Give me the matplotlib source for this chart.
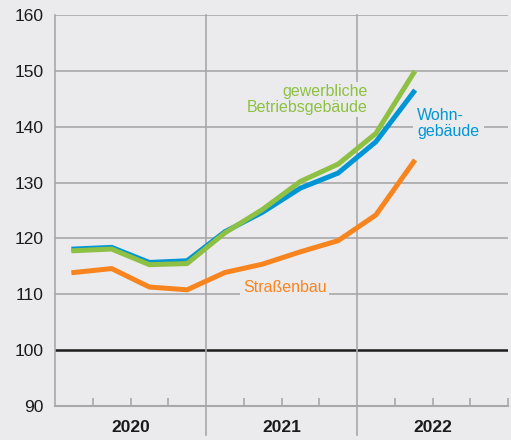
import matplotlib
matplotlib.use("Agg")
import matplotlib.pyplot as plt
import matplotlib.transforms as mtransforms

plt.rcParams['font.family'] = ['Liberation Sans', 'DejaVu Sans']

quarters = ["2020Q1", "2020Q2", "2020Q3", "2020Q4",
            "2021Q1", "2021Q2", "2021Q3", "2021Q4",
            "2022Q1", "2022Q2"]
wohn = [118.1, 118.4, 115.7, 116.0, 121.2, 124.7, 129.0, 131.7, 137.3, 146.2]
gewerb = [117.8, 118.1, 115.3, 115.5, 121.0, 125.2, 130.2, 133.3, 138.8, 149.6]
strasse = [113.9, 114.6, 111.3, 110.8, 113.9, 115.4, 117.6, 119.6, 124.2, 133.7]
years = ["2020", "2021", "2022"]
yticks = [90, 100, 110, 120, 130, 140, 150, 160]

bg = "#ebebed"
grid_c = "#a8a8a8"
c_green = "#8dc043"
c_blue = "#0096d6"
c_orange = "#f7841f"

fig = plt.figure(figsize=(5.11, 4.40), dpi=100, facecolor=bg)
ax = fig.add_axes([55/511, 34/440, 453/511, 391/440], facecolor=bg)

x = [i + 0.5 for i in range(len(quarters))]
ax.set_xlim(0, 12)
ax.set_ylim(90, 160)

# horizontal grid
for v in yticks[2:]:
    ax.axhline(v, color=grid_c, lw=1.2, zorder=1)
ax.axhline(100, color="#1a1a1a", lw=1.8, zorder=1)

# vertical year separators extending below axis
trans = mtransforms.blended_transform_factory(ax.transData, ax.transAxes)
for xv in [4, 8]:
    ax.plot([xv, xv], [-0.075, 1.0], color=grid_c, lw=1.2, transform=trans,
            clip_on=False, zorder=1)

ax.plot(x, wohn, color=c_blue, lw=3.6, zorder=3, solid_joinstyle='miter')
ax.plot(x, gewerb, color=c_green, lw=3.6, zorder=4, solid_joinstyle='miter')
ax.plot(x, strasse, color=c_orange, lw=3.6, zorder=5, solid_joinstyle='miter')

# labels
ax.text(8.28, 144.9, "gewerbliche\nBetriebsgebäude", color=c_green, fontsize=11.5,
        ha="right", va="center", linespacing=1.05, zorder=6,
        bbox=dict(facecolor=bg, edgecolor="none", pad=1.5))
ax.text(9.6, 140.6, "Wohn-\ngebäude", color=c_blue, fontsize=11.5,
        ha="left", va="center", linespacing=1.05, zorder=6,
        bbox=dict(facecolor=bg, edgecolor="none", pad=3))
ax.text(4.98, 111.2, "Straßenbau", color=c_orange, fontsize=11.5,
        ha="left", va="center", zorder=6,
        bbox=dict(facecolor=bg, edgecolor="none", pad=2))

# spines
for s in ["top", "right"]:
    ax.spines[s].set_visible(False)
ax.spines["left"].set_color(grid_c)
ax.spines["left"].set_linewidth(1.2)
ax.spines["bottom"].set_color(grid_c)
ax.spines["bottom"].set_linewidth(1.5)

ax.set_yticks(yticks)
ax.set_yticklabels([str(v) for v in yticks], fontsize=12.5, color="#1a1a1a")
ax.tick_params(axis="y", length=0, pad=8)

ax.set_xticks([1, 2, 3, 5, 6, 7, 9, 10, 11, 12])
ax.set_xticklabels([])
ax.tick_params(axis="x", direction="in", length=6, width=1.2, color=grid_c)

for i, yl in enumerate(years):
    ax.text(2 + 4 * i, -0.056, yl, transform=trans, ha="center", va="center",
            fontsize=12.5, fontweight="bold", color="#1a1a1a")

fig.savefig("out.png", dpi=100, facecolor=bg)
